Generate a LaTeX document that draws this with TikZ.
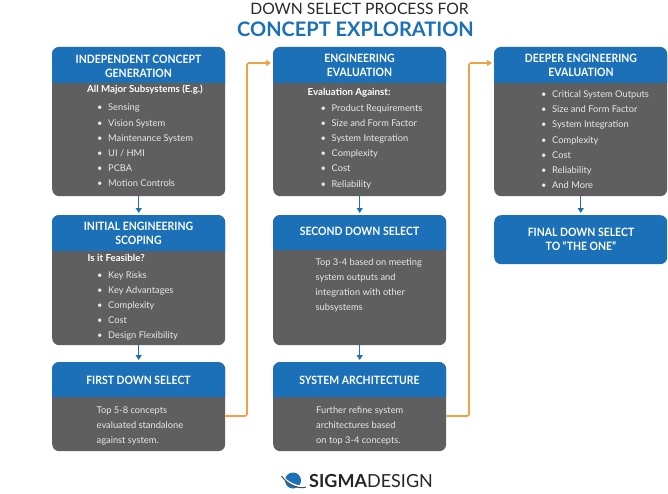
\documentclass[tikz,border=0pt]{standalone}
\usepackage{fontspec}
\setmainfont{Lato}
\newfontfamily\headfont[FakeStretch=0.91]{Lato}
\usetikzlibrary{arrows.meta}
\definecolor{cardblue}{HTML}{1B70B8}
\definecolor{cardgray}{HTML}{5F5F5F}
\definecolor{linkorange}{HTML}{EFA244}
\definecolor{bodytext}{HTML}{E8E8E8}
\definecolor{titleink}{HTML}{2A2A2A}
\tikzset{
  x=1pt,y=-1pt,
  cardbody/.style={fill=cardgray,rounded corners=7pt,inner sep=0pt,minimum width=173pt,anchor=north west},
  cardfull/.style={fill=cardblue,rounded corners=7pt,inner sep=0pt,minimum width=173pt,anchor=north west},
  headtext/.style={text=white,font=\headfont\fontsize{11.5}{14.3}\selectfont\bfseries,align=center,inner sep=0pt},
  introtext/.style={text=white,font=\fontsize{9.7}{12}\selectfont\bfseries,inner sep=0pt},
  listtext/.style={text=bodytext,font=\fontsize{9.3}{15.2}\selectfont,align=left,anchor=north west,inner sep=0pt,text depth=0pt},
  parabox/.style={text=bodytext,font=\fontsize{9.3}{15.2}\selectfont,align=left,anchor=north west,inner sep=0pt},
  bluelink/.style={draw=cardblue,line width=1pt,shorten >=2pt,-{Triangle[length=5pt,width=6pt]}},
  orangelink/.style={draw=linkorange,line width=1.6pt,rounded corners=2pt,shorten >=2pt,-{Triangle[length=5pt,width=6pt]}}
}
% name, x, top, split, bottom
\newcommand{\cardbox}[5]{%
  \node[cardbody,minimum height={(#5-#3)*1pt}] (#1) at (#2,#3) {};
  \fill[cardblue] (#2,#4) [rounded corners=7pt] -- (#2,#3) -- (#2+173,#3) [sharp corners] -- (#2+173,#4) -- cycle;
}
\newcommand{\bul}{\makebox[11pt][l]{\textbullet}}
\begin{document}
\begin{tikzpicture}
\useasboundingbox (0,0) rectangle (668,494);
\fill[white] (0,0) rectangle (668,494);
\node[text=titleink,font=\fontsize{15.7}{18}\selectfont,inner sep=0pt] (title1) at (359.5,9) {DOWN SELECT PROCESS FOR};
\node[text=cardblue,font=\fontsize{20}{24}\selectfont\bfseries,inner sep=0pt] (title2) at (355.5,29.5) {CONCEPT EXPLORATION};

\cardbox{a1}{52}{47}{83}{196}
\cardbox{a2}{52}{215}{251}{345}
\cardbox{a3}{52}{362}{397}{451}
\cardbox{b1}{273}{47}{83}{196}
\cardbox{b2}{273}{215}{250}{345}
\cardbox{b3}{273}{362}{397}{451}
\cardbox{c1}{494}{47}{83}{196}
\node[cardfull,minimum height=49pt] (c2) at (494,215) {};

\node[headtext] (a1h) at (138.5,66) {INDEPENDENT CONCEPT\\GENERATION};
\node[introtext] (a1i) at (145,90) {All Major Subsystems (E.g.)};
\node[listtext] (a1l) at (97,104) {\bul Sensing\\\bul Vision System\\\bul Maintenance System\\\bul UI / HMI\\\bul PCBA\\\bul Motion Controls};

\node[headtext] (a2h) at (138.5,233.5) {INITIAL ENGINEERING\\SCOPING};
\node[introtext,anchor=west] (a2i) at (87.5,258) {Is it Feasible?};
\node[listtext] (a2l) at (97,271) {\bul Key Risks\\\bul Key Advantages\\\bul Complexity\\\bul Cost\\\bul Design Flexibility};

\node[headtext] (a3h) at (138.5,380) {FIRST DOWN SELECT};
\node[parabox] (a3l) at (96.5,406.5) {Top 5-8 concepts\\evaluated standalone\\against system.};

\node[headtext] (b1h) at (359.5,65) {ENGINEERING\\EVALUATION};
\node[introtext,anchor=west] (b1i) at (307.5,93) {Evaluation Against:};
\node[listtext] (b1l) at (320.5,104) {\bul Product Requirements\\\bul Size and Form Factor\\\bul System Integration\\\bul Complexity\\\bul Cost\\\bul Reliability};

\node[headtext] (b2h) at (359.5,231) {SECOND DOWN SELECT};
\node[parabox] (b2l) at (315.5,258) {Top 3-4 based on meeting\\system outputs and\\integration with other\\subsystems};

\node[headtext] (b3h) at (359.5,380) {SYSTEM ARCHITECTURE};
\node[parabox] (b3l) at (316,406.5) {Further refine system\\architectures based\\on top 3-4 concepts.};

\node[headtext] (c1h) at (581,65) {DEEPER ENGINEERING\\EVALUATION};
\node[listtext] (c1l) at (541,90.5) {\bul Critical System Outputs\\\bul Size and Form Factor\\\bul System Integration\\\bul Complexity\\\bul Cost\\\bul Reliability\\\bul And More};

\node[headtext] (c2h) at (581,239) {FINAL DOWN SELECT\\TO “THE ONE”};

\draw[bluelink] (a1.south) -- (a2.north);
\draw[bluelink] (a2.south) -- (a3.north);
\draw[bluelink] (b1.south) -- (b2.north);
\draw[bluelink] (b2.south) -- (b3.north);
\draw[bluelink] (c1.south) -- (c2.north);

\coordinate (r1) at (247,416);
\coordinate (r2) at (469,416);
\coordinate (t1) at (247,63);
\coordinate (t2) at (469,63);
\draw[orangelink] (a3.east |- r1) -- (r1) -- (t1) -- (b1.west |- t1);
\draw[orangelink] (b3.east |- r2) -- (r2) -- (t2) -- (c1.west |- t2);

% logo
\fill[cardblue] (293,480.5) circle (8pt);
\draw[white,line width=1.6pt] (281,475) .. controls (288,484) and (300,488) .. (306,486);
\draw[black!70,line width=1pt] (281.5,476) .. controls (288,485.5) and (300,489.5) .. (306,487);
\node[anchor=west,inner sep=0pt,text=black!85,font=\fontsize{18}{20}\selectfont] (logo) at (309,481) {\textbf{SIGMA}DESIGN};
\end{tikzpicture}
\end{document}
